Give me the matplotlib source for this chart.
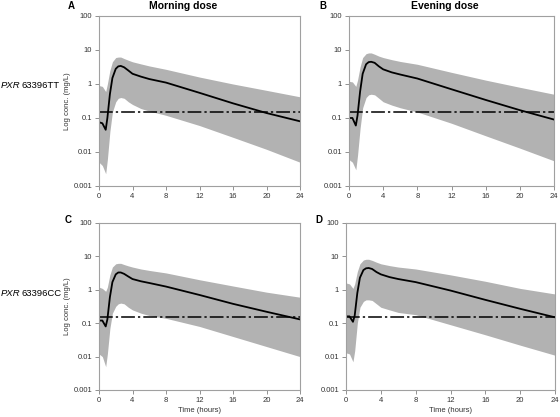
import matplotlib
matplotlib.use("Agg")
import matplotlib.pyplot as plt
from matplotlib.ticker import FixedLocator, FixedFormatter

plt.rcParams['font.family'] = ['Liberation Sans', 'DejaVu Sans']

# time grid (hours)
time = [0, 0.4, 0.8, 1.0, 1.3, 1.6, 2.0, 2.3, 2.6, 3.0, 3.5, 4, 5, 6, 8, 12, 16, 20, 24]

# A: PXR 63396TT, morning dose
median_a = [0.075, 0.07, 0.045, 0.1, 0.5, 1.5, 2.8, 3.3, 3.4, 3.1, 2.5, 2.0, 1.65, 1.4, 1.1, 0.55, 0.27, 0.14, 0.08]
upper_a = [0.9, 0.85, 0.6, 1.0, 2.5, 4.5, 6.0, 6.2, 6.2, 5.6, 5.0, 4.5, 3.9, 3.4, 2.7, 1.6, 1.0, 0.65, 0.42]
lower_a = [0.005, 0.004, 0.0023, 0.006, 0.04, 0.15, 0.3, 0.38, 0.4, 0.38, 0.3, 0.25, 0.19, 0.16, 0.12, 0.06, 0.027, 0.012, 0.005]

# B: PXR 63396TT, evening dose
median_b = [0.1, 0.1, 0.06, 0.12, 0.6, 2.0, 3.8, 4.4, 4.5, 4.2, 3.3, 2.7, 2.2, 1.9, 1.45, 0.7, 0.34, 0.17, 0.09]
upper_b = [1.2, 1.15, 0.85, 1.3, 3.2, 6.0, 7.8, 8.2, 8.2, 7.5, 6.6, 6.0, 5.2, 4.6, 3.8, 2.2, 1.3, 0.8, 0.5]
lower_b = [0.006, 0.005, 0.003, 0.008, 0.05, 0.2, 0.4, 0.48, 0.5, 0.48, 0.38, 0.3, 0.24, 0.2, 0.15, 0.07, 0.03, 0.013, 0.0055]

# C: PXR 63396CC, morning dose
median_c = [0.12, 0.12, 0.08, 0.13, 0.6, 1.7, 2.9, 3.3, 3.3, 3.0, 2.5, 2.1, 1.8, 1.6, 1.25, 0.7, 0.38, 0.22, 0.13]
upper_c = [1.2, 1.1, 0.9, 1.2, 2.8, 4.8, 6.0, 6.2, 6.2, 5.7, 5.2, 4.8, 4.2, 3.8, 3.2, 2.0, 1.3, 0.85, 0.6]
lower_c = [0.012, 0.01, 0.005, 0.012, 0.07, 0.2, 0.32, 0.38, 0.4, 0.38, 0.3, 0.25, 0.2, 0.17, 0.14, 0.08, 0.04, 0.02, 0.01]

# D: PXR 63396CC, evening dose
median_d = [0.16, 0.16, 0.11, 0.17, 0.8, 2.3, 3.9, 4.4, 4.5, 4.2, 3.4, 2.9, 2.4, 2.1, 1.7, 0.95, 0.5, 0.27, 0.15]
upper_d = [1.6, 1.5, 1.1, 1.5, 3.5, 6.0, 7.8, 8.2, 8.2, 7.6, 6.7, 6.0, 5.3, 4.8, 4.2, 2.8, 1.8, 1.1, 0.75]
lower_d = [0.013, 0.012, 0.007, 0.015, 0.1, 0.3, 0.45, 0.5, 0.5, 0.48, 0.38, 0.3, 0.25, 0.21, 0.18, 0.09, 0.045, 0.022, 0.011]

threshold = 0.15
y_ticks = [0.001, 0.01, 0.1, 1, 10, 100]
y_labels = ['0.001', '0.01', '0.1', '1', '10', '100']
x_ticks = [0, 4, 8, 12, 16, 20, 24]

fig = plt.figure(figsize=(5.6, 4.17), dpi=100)

W, H = 560.0, 417.0
def box(l, t, r, b):
    return [l / W, 1 - b / H, (r - l) / W, (b - t) / H]

panels = [
    ('A', box(99, 16, 300, 186), median_a, upper_a, lower_a),
    ('B', box(349, 16, 554, 186), median_b, upper_b, lower_b),
    ('C', box(99, 223, 300, 390), median_c, upper_c, lower_c),
    ('D', box(346, 223, 555, 390), median_d, upper_d, lower_d),
]

axes = {}
for letter, pos, med, up, lo in panels:
    ax = fig.add_axes(pos)
    ax.fill_between(time, lo, up, color='#b2b2b2', lw=0)
    ax.plot(time, med, color='black', lw=1.3)
    ax.axhline(threshold, color='black', lw=1.1, ls=(0, (9, 2, 1.5, 2)))
    ax.set_yscale('log')
    ax.set_ylim(0.001, 100)
    ax.set_xlim(0, 24)
    ax.yaxis.set_major_locator(FixedLocator(y_ticks))
    ax.yaxis.set_major_formatter(FixedFormatter(y_labels))
    ax.yaxis.set_minor_locator(FixedLocator([]))
    ax.set_xticks(x_ticks)
    for s in ax.spines.values():
        s.set_color('#a0a0a0')
        s.set_linewidth(0.8)
    ax.tick_params(length=3, width=0.6, color='#808080', labelsize=5.5, labelcolor='#333333', pad=2)
    axes[letter] = ax

for k in ('A', 'C'):
    axes[k].set_ylabel('Log conc. (mg/L)', fontsize=5.5, color='#333333', labelpad=2)
for k in ('C', 'D'):
    axes[k].set_xlabel('Time (hours)', fontsize=5.5, color='#333333', labelpad=2)

# column titles
fig.text(183 / W, 1 - 6 / H, 'Morning dose', fontsize=7.5, fontweight='bold', ha='center', va='center')
fig.text(445 / W, 1 - 6 / H, 'Evening dose', fontsize=7.5, fontweight='bold', ha='center', va='center')

# panel letters
fig.text(68 / W, 1 - 6 / H, 'A', fontsize=7, fontweight='bold', va='center')
fig.text(319 / W, 1 - 6 / H, 'B', fontsize=7, fontweight='bold', va='center')
fig.text(65 / W, 1 - 220 / H, 'C', fontsize=7, fontweight='bold', va='center')
fig.text(315 / W, 1 - 220 / H, 'D', fontsize=7, fontweight='bold', va='center')

# row labels
for y, geno in ((86, '63396TT'), (294, '63396CC')):
    fig.text(1 / W, 1 - y / H, 'PXR', fontsize=6.8, style='italic', va='center')
    fig.text(22 / W, 1 - y / H, geno, fontsize=6.8, va='center')

fig.savefig('out.png', dpi=100)
